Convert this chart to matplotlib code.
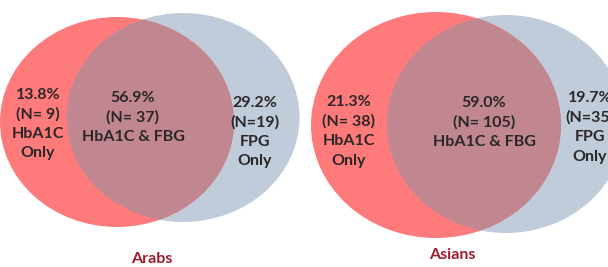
import matplotlib.pyplot as plt
from matplotlib.patches import Ellipse

# venn values
groups = ['Arabs', 'Asians']
hba1c_only_pct = ['13.8%', '21.3%']
hba1c_only_n = [9, 38]
both_pct = ['56.9%', '59.0%']
both_n = [37, 105]
fpg_only_pct = ['29.2%', '19.7%']
fpg_only_n = [19, 35]

red = '#FF7B7B'
blue = '#C0CCD9'
overlap = '#C08790'
txt = '#2B2728'
title_c = '#A3192C'

plt.rcParams['font.family'] = ['Lato', 'DejaVu Sans']

fig = plt.figure(figsize=(6.08, 2.67), dpi=100)
ax = fig.add_axes([0, 0, 1, 1])
ax.set_xlim(0, 608)
ax.set_ylim(267, 0)
ax.axis('off')

# layout per venn: red ellipse, blue ellipse (center x, center y, w, h), text anchors
layout = [
    dict(r=(117, 122, 234, 210), b=(183, 117.5, 233, 209),
         lx=38, ly=95, cx=133, cy=98, rx=255, ry=103, tx=152, ty=259),
    dict(r=(436, 125, 250, 226), b=(506, 124, 238, 218),
         lx=349, ly=102, cx=484, cy=103, rx=590, ry=98, tx=452, ty=255),
]

fs = 11.5
dy = 19.5
for i, g in enumerate(groups):
    L = layout[i]
    e_r = Ellipse(L['r'][:2], L['r'][2], L['r'][3], fc=red, ec='none', zorder=1)
    e_b = Ellipse(L['b'][:2], L['b'][2], L['b'][3], fc=blue, ec='none', zorder=1)
    ax.add_patch(e_b)
    ax.add_patch(e_r)
    e_o = Ellipse(L['r'][:2], L['r'][2], L['r'][3], fc=overlap, ec='none', zorder=2)
    clip = Ellipse(L['b'][:2], L['b'][2], L['b'][3], fc='none', ec='none')
    ax.add_patch(clip)
    ax.add_patch(e_o)
    e_o.set_clip_path(clip)

    lines_l = [hba1c_only_pct[i], '(N= %d)' % hba1c_only_n[i], 'HbA1C', 'Only']
    lines_c = [both_pct[i], '(N= %d)' % both_n[i], 'HbA1C & FBG']
    lines_r = [fpg_only_pct[i], '(N=%d)' % fpg_only_n[i], 'FPG', 'Only']
    for k, s in enumerate(lines_l):
        ax.text(L['lx'], L['ly'] + k * dy, s, ha='center', va='center',
                fontsize=fs, fontweight='bold', color=txt, zorder=3)
    for k, s in enumerate(lines_c):
        ax.text(L['cx'], L['cy'] + k * dy, s, ha='center', va='center',
                fontsize=fs, fontweight='bold', color=txt, zorder=3)
    for k, s in enumerate(lines_r):
        ax.text(L['rx'], L['ry'] + k * dy, s, ha='center', va='center',
                fontsize=fs, fontweight='bold', color=txt, zorder=3, clip_on=True)
    ax.text(L['tx'], L['ty'], g, ha='center', va='center', fontsize=11.5,
            fontweight='bold', color=title_c)

fig.savefig('out.png', dpi=100)
